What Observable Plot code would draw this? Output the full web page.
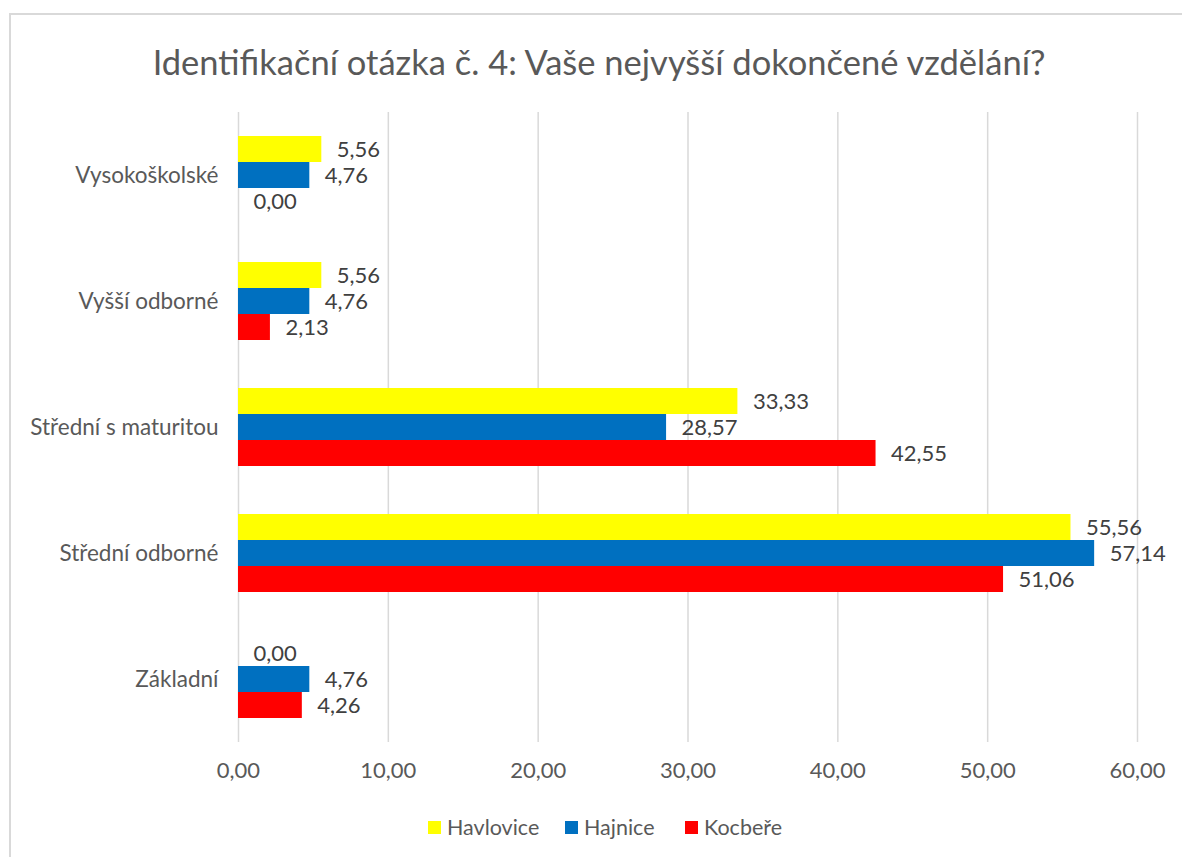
<!DOCTYPE html>
<html>
<head>
<meta charset="utf-8">
<script src="https://cdn.jsdelivr.net/npm/d3@7"></script>
<script src="https://cdn.jsdelivr.net/npm/@observablehq/plot@0.6"></script>
<style>
  html, body { margin: 0; padding: 0; background: #fff; }
  body { font-family: Lato, "Open Sans", sans-serif; }
  #wrap { position: relative; width: 1182px; height: 857px; overflow: hidden; }
  #frame { position: absolute; left: 9px; top: 13px; width: 1300px; height: 1000px; border: 2px solid #d9d9d9; box-sizing: border-box; }
  #title { position: absolute; left: 8px; top: 0; width: 1182px; height: 90px; text-align: center; line-height: 124px; font-size: 34.5px; color: #595959; white-space: nowrap; }
  #chart { position: absolute; left: 0; top: 90px; }
  #legend { position: absolute; left: 0; top: 812px; width: 1182px; height: 30px; }
  .item { position: absolute; top: 0; height: 30px; display: flex; align-items: center; font-size: 21.5px; color: #595959; }
  .sw { width: 13px; height: 13px; margin-right: 6px; }
</style>
</head>
<body>
<div id="wrap">
  <div id="frame"></div>
  <div id="title">Identifikační otázka č. 4: Vaše nejvyšší dokončené vzdělání?</div>
  <div id="chart"></div>
  <div id="legend"></div>
</div>
<script>
const categories = ["Vysokoškolské", "Vyšší odborné", "Střední s maturitou", "Střední odborné", "Základní"];
const series = ["Havlovice", "Hajnice", "Kocbeře"];
const colors = ["#ffff00", "#0070c0", "#ff0000"];
const havlovice = [5.56, 5.56, 33.33, 55.56, 0.00];
const hajnice = [4.76, 4.76, 28.57, 57.14, 4.76];
const kocbere = [0.00, 2.13, 42.55, 51.06, 4.26];
const xTicks = [0, 10, 20, 30, 40, 50, 60];

const seriesValues = [havlovice, hajnice, kocbere];
const data = [];
categories.forEach((c, i) => {
  series.forEach((s, j) => {
    data.push({category: c, series: s, value: seriesValues[j][i]});
  });
});
const fmt = d => d.toFixed(2).replace(".", ",");

const chart = Plot.plot({
  width: 1182,
  height: 710,
  marginTop: 22,
  marginBottom: 58,
  marginLeft: 238,
  marginRight: 45,
  style: {fontFamily: "Lato, 'Open Sans', sans-serif", color: "#595959", background: "transparent"},
  x: {domain: [0, 60], axis: null},
  fy: {domain: categories, padding: 0, label: null, axis: null},
  y: {domain: series, paddingInner: 0, paddingOuter: 0.923, axis: null},
  color: {domain: series, range: colors},
  marks: [
    Plot.ruleX(xTicks, {stroke: "#d9d9d9", strokeWidth: 1.5}),
    Plot.barX(data, {x: "value", y: "series", fy: "category", fill: "series"}),
    Plot.text(data, {x: "value", y: "series", fy: "category", text: d => fmt(d.value), textAnchor: "start", dx: 15, fontSize: 22, fill: "#404040"}),
    Plot.axisFy({anchor: "left", tickSize: 0, tickPadding: 20, fontSize: 22.5, label: null, color: "#595959"}),
    Plot.axisX({anchor: "bottom", ticks: xTicks, tickSize: 0, tickPadding: 20, fontSize: 22, tickFormat: fmt, label: null, color: "#595959"})
  ]
});
document.getElementById("chart").appendChild(chart);

const legendPos = [428, 565, 685];
const legend = document.getElementById("legend");
series.forEach((s, i) => {
  const it = document.createElement("div");
  it.className = "item";
  it.style.left = legendPos[i] + "px";
  const sw = document.createElement("div");
  sw.className = "sw";
  sw.style.background = colors[i];
  const t = document.createElement("span");
  t.textContent = s;
  it.appendChild(sw);
  it.appendChild(t);
  legend.appendChild(it);
});
</script>
</body>
</html>
